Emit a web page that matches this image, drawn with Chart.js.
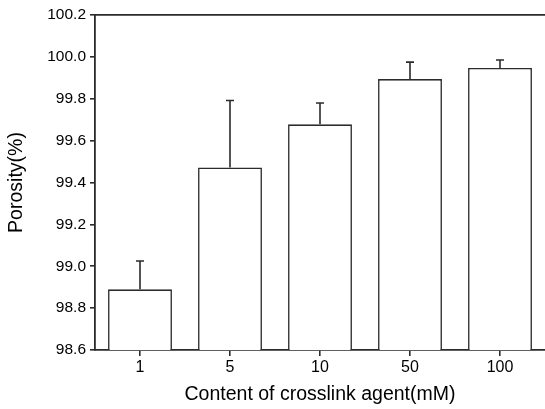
<!DOCTYPE html>
<html>
<head>
<meta charset="utf-8">
<script src="https://cdn.jsdelivr.net/npm/chart.js@4"></script>
<style>
html,body{margin:0;padding:0;background:#fff;}
#wrap{width:545px;height:409px;position:relative;}
</style>
</head>
<body>
<div id="wrap"><canvas id="c" width="545" height="409"></canvas></div>
<script>
const categories = ['1', '5', '10', '50', '100'];
const porosity = [98.89, 99.472, 99.678, 99.894, 99.947];
const porositySD = [0.135, 0.32, 0.102, 0.081, 0.038];
const yTicks = [98.6, 98.8, 99.0, 99.2, 99.4, 99.6, 99.8, 100.0, 100.2];
const xTitle = 'Content of crosslink agent(mM)';
const yTitle = 'Porosity(%)';

const INK = '#2b2b2b';
const FONT = "'Liberation Sans', Arial, Helvetica, sans-serif";

const errorBars = {
  id: 'errorBars',
  afterDatasetsDraw(chart) {
    const ctx = chart.ctx;
    const meta = chart.getDatasetMeta(0);
    const y = chart.scales.y;
    ctx.save();
    ctx.strokeStyle = INK;
    ctx.lineWidth = 1.6;
    meta.data.forEach((bar, i) => {
      const top = y.getPixelForValue(porosity[i] + porositySD[i]);
      const base = y.getPixelForValue(porosity[i]);
      ctx.beginPath();
      ctx.moveTo(bar.x, base);
      ctx.lineTo(bar.x, top);
      ctx.moveTo(bar.x - 4, top);
      ctx.lineTo(bar.x + 4, top);
      ctx.stroke();
    });
    ctx.restore();
  }
};

new Chart(document.getElementById('c'), {
  type: 'bar',
  data: {
    labels: categories,
    datasets: [{
      data: porosity,
      backgroundColor: '#ffffff',
      borderColor: INK,
      borderWidth: 1.6,
      borderSkipped: false,
      categoryPercentage: 1.0,
      barPercentage: 0.71
    }]
  },
  options: {
    responsive: false,
    animation: false,
    devicePixelRatio: 1,
    layout: { padding: { top: 15, right: 0, left: 0, bottom: 0 } },
    plugins: { legend: { display: false }, tooltip: { enabled: false } },
    scales: {
      x: {
        type: 'category',
        position: 'bottom',
        offset: true,
        grid: { display: true, drawOnChartArea: false, drawTicks: true, tickLength: 6, offset: false, color: INK, lineWidth: 1.6 },
        border: { display: true, color: INK, width: 1.8 },
        ticks: { color: '#000', font: { family: FONT, size: 16 }, padding: 2, maxRotation: 0 },
        title: { display: true, text: xTitle, color: '#000', font: { family: FONT, size: 19.5 }, padding: { top: 0, bottom: 3 } },
        afterFit(s) { s.height = 59; }
      },
      x2: {
        type: 'category',
        position: 'top',
        labels: categories,
        grid: { display: false },
        border: { display: true, color: INK, width: 1.8 },
        ticks: { display: false },
        afterFit(s) { s.height = 0; }
      },
      y: {
        min: yTicks[0],
        max: yTicks[yTicks.length - 1],
        afterBuildTicks(s) { s.ticks = yTicks.map(v => ({ value: v })); },
        grid: { display: true, drawOnChartArea: false, drawTicks: true, tickLength: 5, color: INK, lineWidth: 1.6 },
        border: { display: true, color: INK, width: 1.8 },
        ticks: { color: '#000', font: { family: FONT, size: 15.5 }, padding: 4, callback: v => Number(v).toFixed(1) },
        title: { display: true, text: yTitle, color: '#000', font: { family: FONT, size: 19.5 }, padding: { top: 5, bottom: 0 } },
        afterFit(s) { s.width = 95; }
      }
    }
  },
  plugins: [errorBars]
});
</script>
</body>
</html>
